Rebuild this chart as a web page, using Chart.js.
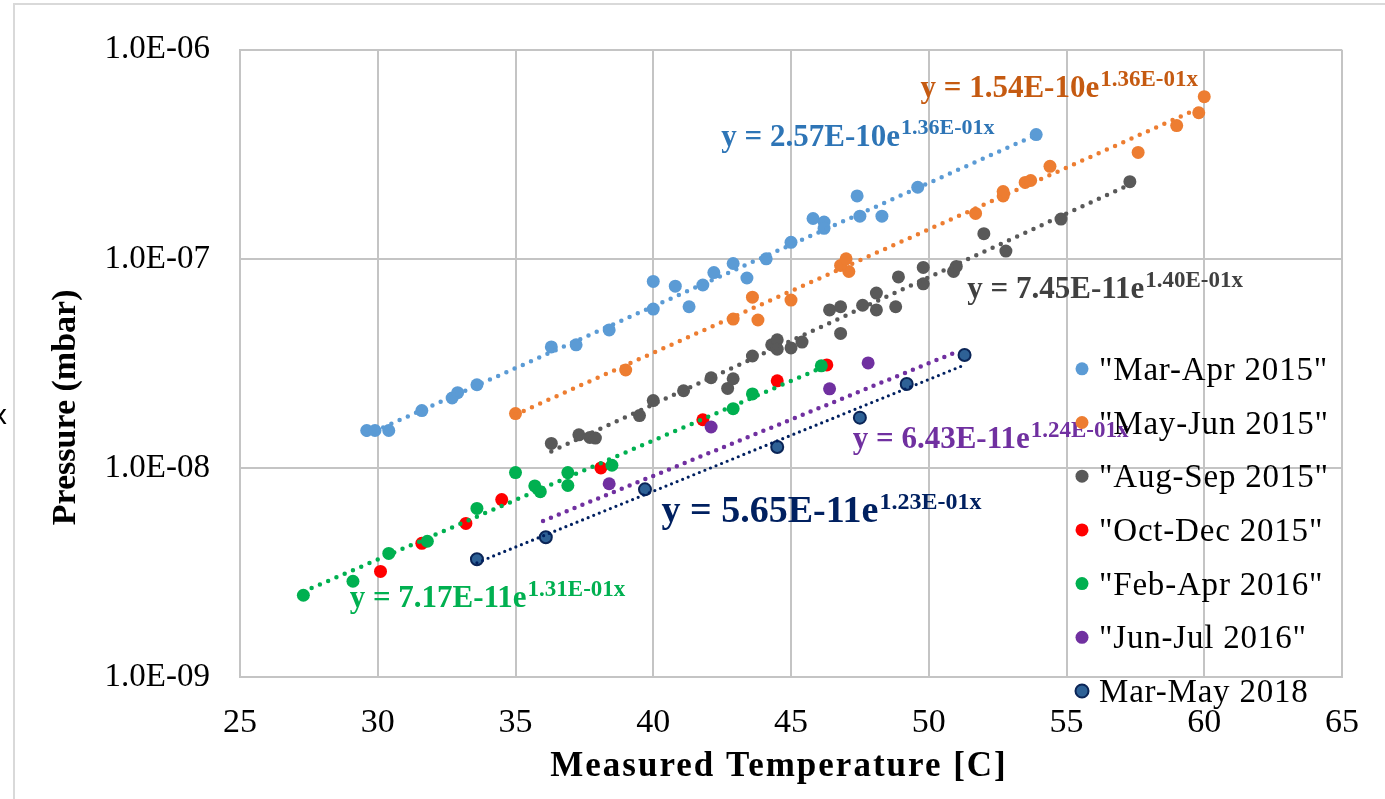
<!DOCTYPE html>
<html>
<head>
<meta charset="utf-8">
<script src="https://cdn.jsdelivr.net/npm/chart.js@4/dist/chart.umd.min.js"></script>
<style>
  html, body { margin: 0; padding: 0; background: #fff; }
  #myChart { display: block; }
</style>
</head>
<body>
<canvas id="myChart" width="1385" height="799"></canvas>
<script>
// measured temperature [C] and pressure [mbar] per campaign
const marAprT = [29.6, 29.9, 30.4, 31.6, 32.7, 32.9, 33.6, 36.3, 37.2, 38.4, 40.0, 40.0, 40.8, 41.3, 41.8, 42.2, 42.9, 43.4, 44.1, 45.0, 45.8, 46.2, 46.2, 47.4, 47.5, 48.3, 49.6, 53.9];
const marAprP = [1.51e-8, 1.51e-8, 1.51e-8, 1.88e-8, 2.16e-8, 2.29e-8, 2.5e-8, 3.79e-8, 3.88e-8, 4.57e-8, 5.75e-8, 7.8e-8, 7.4e-8, 5.9e-8, 7.5e-8, 8.6e-8, 9.5e-8, 8.1e-8, 1.0e-7, 1.2e-7, 1.56e-7, 1.5e-7, 1.4e-7, 2.0e-7, 1.6e-7, 1.6e-7, 2.2e-7, 3.93e-7];

const mayJunT = [35.0, 39.0, 42.9, 43.6, 43.8, 45.0, 46.8, 47.0, 47.1, 51.7, 52.7, 52.7, 53.5, 53.7, 54.4, 57.6, 59.0, 59.8, 60.0];
const mayJunP = [1.82e-8, 2.94e-8, 5.15e-8, 6.56e-8, 5.1e-8, 6.35e-8, 9.3e-8, 1.0e-7, 8.7e-8, 1.65e-7, 2.0e-7, 2.1e-7, 2.32e-7, 2.37e-7, 2.77e-7, 3.23e-7, 4.34e-7, 5.0e-7, 5.97e-7];

const augSepT = [36.3, 37.3, 37.7, 37.9, 39.5, 40.0, 41.1, 42.1, 42.7, 42.9, 43.6, 44.3, 44.5, 44.5, 45.0, 45.4, 46.4, 46.8, 46.8, 47.6, 48.1, 48.1, 48.8, 48.9, 49.8, 49.8, 50.9, 51.0, 52.0, 52.8, 54.8, 57.3];
const augSepP = [1.31e-8, 1.44e-8, 1.4e-8, 1.39e-8, 1.78e-8, 2.1e-8, 2.34e-8, 2.7e-8, 2.4e-8, 2.67e-8, 3.43e-8, 3.88e-8, 4.1e-8, 3.7e-8, 3.75e-8, 4.0e-8, 5.7e-8, 5.9e-8, 4.4e-8, 6.0e-8, 6.86e-8, 5.7e-8, 5.9e-8, 8.2e-8, 7.6e-8, 9.1e-8, 8.7e-8, 9.2e-8, 1.32e-7, 1.09e-7, 1.55e-7, 2.34e-7];

const octDecT = [30.1, 31.6, 33.2, 34.5, 38.1, 41.8, 44.5, 46.3];
const octDecP = [3.2e-9, 4.36e-9, 5.43e-9, 7.06e-9, 1.0e-8, 1.7e-8, 2.61e-8, 3.11e-8];

const febAprT = [27.3, 29.1, 30.4, 31.8, 33.6, 35.0, 35.7, 35.9, 36.9, 36.9, 38.5, 42.9, 43.6, 46.1];
const febAprP = [2.46e-9, 2.87e-9, 3.9e-9, 4.46e-9, 6.4e-9, 9.5e-9, 8.2e-9, 7.7e-9, 9.5e-9, 8.24e-9, 1.03e-8, 1.92e-8, 2.26e-8, 3.08e-8];

const junJulT = [38.4, 42.1, 46.4, 47.8];
const junJulP = [8.4e-9, 1.57e-8, 2.39e-8, 3.18e-8];

const marMayT = [33.6, 36.1, 39.7, 44.5, 47.5, 49.2, 51.3];
const marMayP = [3.66e-9, 4.66e-9, 7.9e-9, 1.26e-8, 1.74e-8, 2.52e-8, 3.47e-8];

// exponential trendlines: start / end points (straight on the log axis)
const trendMarAprT = [29.6, 53.9], trendMarAprP = [1.44e-8, 3.92e-7];
const trendMayJunT = [35.0, 60.0], trendMayJunP = [1.80e-8, 5.39e-7];
const trendAugSepT = [36.3, 57.3], trendAugSepP = [1.20e-8, 2.27e-7];
const trendFebAprT = [27.3, 46.1], trendFebAprP = [2.56e-9, 3.01e-8];
const trendJunJulT = [36.0, 51.1], trendJunJulP = [5.58e-9, 3.63e-8];
const trendMarMayT = [33.6, 51.3], trendMarMayP = [3.52e-9, 3.11e-8];

const seriesNames = ['"Mar-Apr 2015"', '"May-Jun 2015"', '"Aug-Sep 2015"', '"Oct-Dec 2015"', '"Feb-Apr 2016"', '"Jun-Jul 2016"', 'Mar-May 2018'];
const xTicks = [25, 30, 35, 40, 45, 50, 55, 60, 65];
const yTicks = [1e-9, 1e-8, 1e-7, 1e-6];

// fit equations: main text, exponent text, anchor (T, P)
const equations = [
  {main: 'y = 2.57E-10e', sup: '1.36E-01x', t: 42.47, p: 3.45e-7, color: '#2E75B6', size: 31, sup_size: 22, raise: 12},
  {main: 'y = 1.54E-10e', sup: '1.36E-01x', t: 49.70, p: 5.97e-7, color: '#C55A11', size: 31, sup_size: 23, raise: 11},
  {main: 'y = 7.45E-11e', sup: '1.40E-01x', t: 51.40, p: 6.49e-8, color: '#404040', size: 31, sup_size: 23, raise: 11},
  {main: 'y = 7.17E-11e', sup: '1.31E-01x', t: 28.98, p: 2.16e-9, color: '#00B050', size: 31, sup_size: 23, raise: 11},
  {main: 'y = 6.43E-11e', sup: '1.24E-01x', t: 47.24, p: 1.25e-8, color: '#7030A0', size: 31, sup_size: 23, raise: 11},
  {main: 'y = 5.65E-11e', sup: '1.23E-01x', t: 40.30, p: 5.49e-9, color: '#002060', size: 38, sup_size: 24, raise: 13}
];

const FONT = '"Liberation Serif", "Times New Roman", serif';
Chart.defaults.font.family = FONT;
Chart.defaults.color = '#000';

function pts(xs, ys) {
  return xs.map((x, i) => ({x: x, y: ys[i]}));
}

const colors = ['#5B9BD5', '#ED7D31', '#595959', '#FF0000', '#00B050', '#7030A0', '#2E6196'];

function scatterSet(i, xs, ys) {
  const navy = i === 6;
  return {
    label: seriesNames[i],
    data: pts(xs, ys),
    showLine: false,
    pointRadius: navy ? 6 : 6.5,
    pointBackgroundColor: colors[i],
    pointBorderColor: navy ? '#0B2557' : colors[i],
    pointBorderWidth: navy ? 2 : 0,
    order: 10 - i
  };
}

function trendSet(xs, ys, color, width, gap) {
  return {
    label: 'trend',
    data: pts(xs, ys),
    showLine: true,
    pointRadius: 0,
    borderColor: color,
    borderWidth: width,
    borderDash: [0, gap],
    borderCapStyle: 'round',
    fill: false,
    order: 0
  };
}

const datasets = [
  scatterSet(0, marAprT, marAprP),
  scatterSet(1, mayJunT, mayJunP),
  scatterSet(2, augSepT, augSepP),
  scatterSet(3, octDecT, octDecP),
  scatterSet(4, febAprT, febAprP),
  scatterSet(5, junJulT, junJulP),
  scatterSet(6, marMayT, marMayP),
  trendSet(trendMarAprT, trendMarAprP, '#5B9BD5', 4.5, 9),
  trendSet(trendMayJunT, trendMayJunP, '#ED7D31', 4.5, 9),
  trendSet(trendAugSepT, trendAugSepP, '#595959', 4.5, 9),
  trendSet(trendFebAprT, trendFebAprP, '#00B050', 4.5, 9),
  trendSet(trendJunJulT, trendJunJulP, '#7030A0', 4.5, 8.5),
  trendSet(trendMarMayT, trendMarMayP, '#002060', 3.2, 6)
];

// titles, equations, legend and frame
const decorPlugin = {
  id: 'decor',
  beforeDraw(chart) {
    const ctx = chart.ctx;
    ctx.save();
    ctx.strokeStyle = '#d9d9d9';
    ctx.lineWidth = 2;
    ctx.beginPath();
    ctx.moveTo(14, 820);
    ctx.lineTo(14, 4);
    ctx.lineTo(1400, 4);
    ctx.stroke();
    ctx.restore();
  },
  afterDraw(chart) {
    const ctx = chart.ctx;
    const xs = chart.scales.x, ys = chart.scales.y;
    const area = chart.chartArea;
    ctx.save();
    ctx.fillStyle = '#000';

    // cropped stray glyph at the left edge
    ctx.font = '26px "DejaVu Sans"';
    ctx.textBaseline = 'alphabetic';
    ctx.textAlign = 'left';
    ctx.fillText('x', -8, 424);

    // axis titles
    ctx.font = 'bold 35px ' + FONT;
    ctx.textAlign = 'center';
    ctx.letterSpacing = '2px';
    ctx.fillText('Measured Temperature [C]', (area.left + area.right) / 2 - 12, 776);
    ctx.letterSpacing = '0px';
    ctx.save();
    ctx.translate(75, (area.top + area.bottom) / 2 + 44);
    ctx.rotate(-Math.PI / 2);
    ctx.font = 'bold 34px ' + FONT;
    ctx.fillText('Pressure (mbar)', 0, 0);
    ctx.restore();

    // fit equations
    ctx.textAlign = 'left';
    equations.forEach(eq => {
      const px = xs.getPixelForValue(eq.t);
      const py = ys.getPixelForValue(eq.p);
      ctx.fillStyle = eq.color;
      ctx.font = 'bold ' + eq.size + 'px ' + FONT;
      ctx.fillText(eq.main, px, py);
      const w = ctx.measureText(eq.main).width;
      ctx.font = 'bold ' + eq.sup_size + 'px ' + FONT;
      ctx.fillText(eq.sup, px + w + 1, py - eq.raise);
    });

    // legend
    const lx = area.right - 260, ly0 = area.top + 319, step = 53.7;
    ctx.font = '33px ' + FONT;
    ctx.letterSpacing = '0.8px';
    seriesNames.forEach((name, i) => {
      const cy = ly0 + i * step;
      ctx.beginPath();
      ctx.arc(lx, cy, 6.5, 0, Math.PI * 2);
      ctx.fillStyle = colors[i];
      ctx.fill();
      if (i === 6) {
        ctx.strokeStyle = '#0B2557';
        ctx.lineWidth = 2;
        ctx.stroke();
      }
      ctx.fillStyle = '#000';
      ctx.fillText(name, lx + 17, cy + 11);
    });
    ctx.restore();
  }
};

const config = {
  type: 'scatter',
  data: {datasets: datasets},
  options: {
    responsive: false,
    animation: false,
    layout: {padding: {left: 0, top: 48, right: 39, bottom: 0}},
    plugins: {
      legend: {display: false},
      tooltip: {enabled: false},
      title: {display: false}
    },
    scales: {
      x: {
        type: 'linear',
        min: 25,
        max: 65,
        afterBuildTicks: scale => { scale.ticks = xTicks.map(v => ({value: v})); },
        afterFit: scale => { scale.height = 122; },
        grid: {color: '#c4c4c4', lineWidth: 2, drawTicks: false},
        border: {color: '#c4c4c4', width: 2},
        ticks: {font: {size: 34}, padding: 26, color: '#000', maxRotation: 0}
      },
      y: {
        type: 'logarithmic',
        min: 1e-9,
        max: 1e-6,
        afterBuildTicks: scale => { scale.ticks = yTicks.map(v => ({value: v})); },
        afterFit: scale => { scale.width = 240; },
        grid: {color: '#c4c4c4', lineWidth: 2, drawTicks: false},
        border: {color: '#c4c4c4', width: 2},
        ticks: {
          font: {size: 33},
          padding: 30,
          color: '#000',
          callback: v => '1.0E-' + String(-Math.round(Math.log10(v))).padStart(2, '0')
        }
      }
    }
  },
  plugins: [decorPlugin]
};

var myChart = new Chart(document.getElementById('myChart'), config);
</script>
</body>
</html>
